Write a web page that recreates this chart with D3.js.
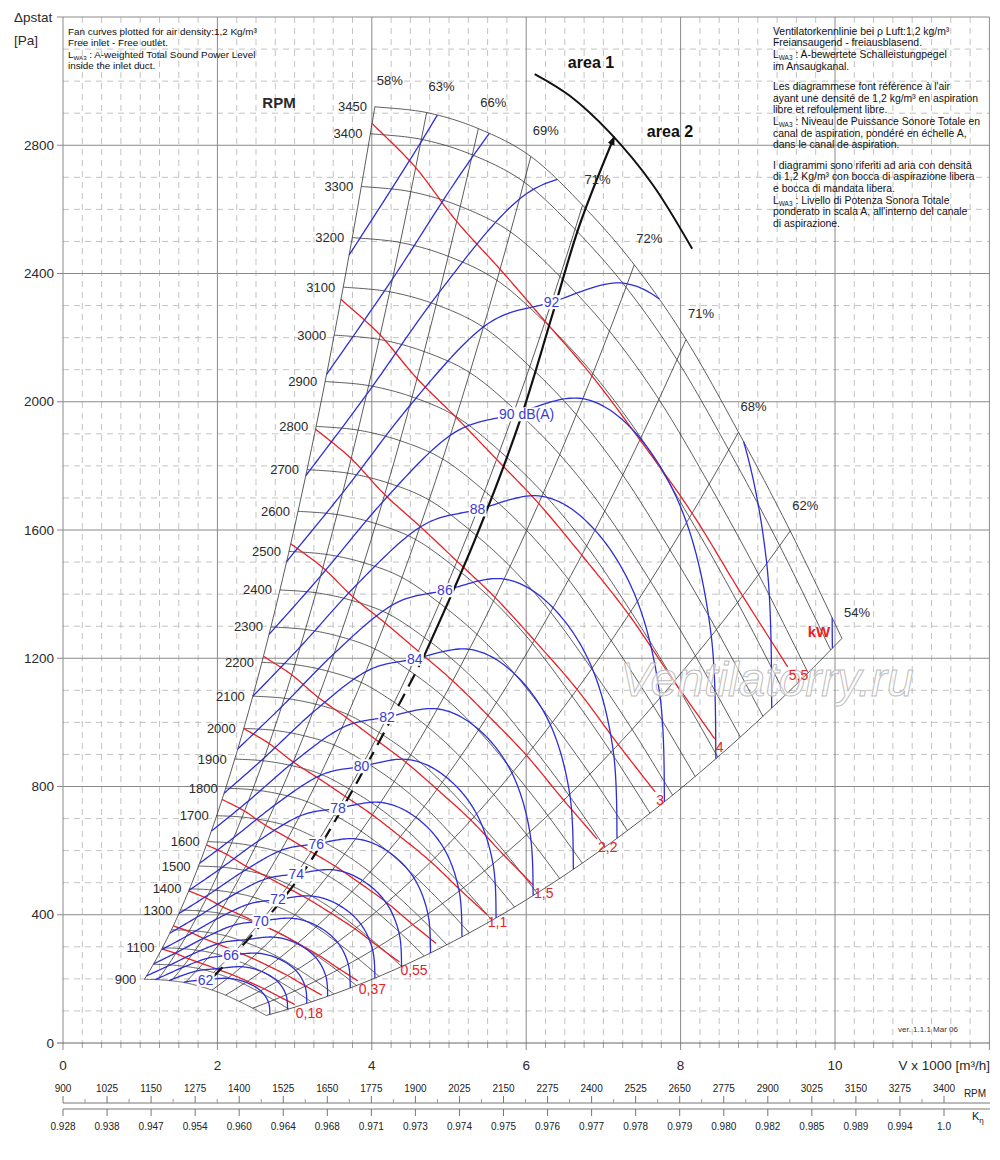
<!DOCTYPE html>
<html>
<head>
<meta charset="utf-8">
<script src="https://cdn.jsdelivr.net/npm/d3@7"></script>
<style>
  body { margin: 0; background: #fff; }
  svg { display: block; font-family: "Liberation Sans", Arial, sans-serif; }
</style>
</head>
<body>
<svg id="chart" width="1000" height="1160"></svg>
<script>
// fan curve at top speed, read at the efficiency lines (flow x1000 m3/h, Pa)
var topRpm = 3450;
var baseFlow     = [4.04, 4.71, 5.38, 6.06, 6.73, 7.40, 8.07, 8.75, 9.42, 10.09];
var basePressure = [2920, 2902, 2852, 2765, 2613, 2427, 2194, 1905, 1597, 1262];
var efficiency   = [58, 63, 66, 69, 71, 72, 71, 68, 62, 54];
var baseSound    = [100.1, 98.4, 96.4, 94.6, 93.5, 92.3, 91.85, 91.95, 92.8, 94.3];
var soundSlope = 56.1;   // dB per decade of speed

var rpmList = [900, 1000, 1100, 1200, 1300, 1400, 1500, 1600, 1700, 1800, 1900, 2000, 2100,
  2200, 2300, 2400, 2500, 2600, 2700, 2800, 2900, 3000, 3100, 3200, 3300, 3400, 3450];
var rpmLabelled = [900, 1100, 1300, 1400, 1500, 1600, 1700, 1800, 1900, 2000, 2100, 2200,
  2300, 2400, 2500, 2600, 2700, 2800, 2900, 3000, 3100, 3200, 3300, 3400, 3450];

var soundLevels = [62, 64, 66, 68, 70, 72, 74, 76, 78, 80, 82, 84, 86, 88, 90, 92, 94, 96, 98];
var soundLabelled = [62, 66, 70, 72, 74, 76, 78, 80, 82, 84, 86, 88, 90, 92];

var powerLevels = [0.18, 0.25, 0.37, 0.55, 0.75, 1.1, 1.5, 2.2, 3, 4, 5.5];
var powerLabels = ["0,18", "", "0,37", "0,55", "", "1,1", "1,5", "2,2", "3", "4", "5,5"];

var areaLine = [[1.94, 205], [3.10, 529], [4.66, 1198], [5.33, 1566], [5.91, 1935],
  [6.34, 2272], [6.69, 2550], [7.14, 2826]];
var areaArc = [[6.11, 3022], [6.56, 2955], [7.08, 2840], [7.63, 2680], [8.15, 2477]];

var flowTicks = [0, 2, 4, 6, 8, 10];
var pressTicks = [0, 400, 800, 1200, 1600, 2000, 2400, 2800];
var rpmScaleTicks = [900, 1025, 1150, 1275, 1400, 1525, 1650, 1775, 1900, 2025, 2150,
  2275, 2400, 2525, 2650, 2775, 2900, 3025, 3150, 3275, 3400];
var kEtaLabels = ["0.928", "0.938", "0.947", "0.954", "0.960", "0.964", "0.968", "0.971",
  "0.973", "0.974", "0.975", "0.976", "0.977", "0.978", "0.979", "0.980", "0.982",
  "0.985", "0.989", "0.994", "1.0"];

var notesLeft = [
  "Fan curves plotted for air density:1,2 Kg/m³",
  "Free inlet - Free outlet.",
  "L{WA3} : A-weighted Total Sound Power Level",
  "inside the inlet duct."
];
var notesRight = [
  "Ventilatorkennlinie bei ρ Luft:1,2 kg/m³",
  "Freiansaugend - freiausblasend.",
  "L{WA3} : A-bewertete Schalleistungpegel",
  "im Ansaugkanal.",
  "",
  "Les diagrammese font référence à l'air",
  "ayant une densité de 1,2 kg/m³ en aspiration",
  "libre et refoulement libre.",
  "L{WA3} : Niveau de Puissance Sonore Totale en",
  "canal de aspiration, pondéré en échelle A,",
  "dans le canal de aspiration.",
  "",
  "I diagrammi sono riferiti ad aria con densità",
  "di 1,2 Kg/m³ con bocca di aspirazione libera",
  "e bocca di mandata libera.",
  "L{WA3} : Livello di Potenza Sonora Totale",
  "ponderato in scala A, all'interno del canale",
  "di aspirazione."
];

// shaft power at top speed, kW
var basePower = baseFlow.map(function(v, i) {
  return v / 3.6 * basePressure[i] / 1000 / (efficiency[i] / 100);
});

var svg = d3.select("#chart");
var x = d3.scaleLinear().domain([0, 12]).range([63, 989.4]);
var y = d3.scaleLinear().domain([0, 3200]).range([1043, 17]);
var line = d3.line().x(function(d) { return x(d[0]); }).y(function(d) { return y(d[1]); });

var BLUE = "#2e2ed6", RED = "#e62228", INK = "#2a2a2a";

// ---- grid
var grid = svg.append("g");
d3.range(1, 48).filter(function(i) { return i % 8; }).forEach(function(i) {
  var xx = x(i * 0.25);
  grid.append("line").attr("x1", xx).attr("x2", xx).attr("y1", y(3200)).attr("y2", y(0))
    .attr("stroke", "#b4b4b4").attr("stroke-width", 0.8).attr("stroke-dasharray", "6,5");
  grid.append("line").attr("x1", xx).attr("x2", xx).attr("y1", y(0)).attr("y2", y(0) + 5)
    .attr("stroke", "#888").attr("stroke-width", 0.8);
});
d3.range(1, 32).filter(function(i) { return i % 4; }).forEach(function(i) {
  grid.append("line").attr("x1", x(0)).attr("x2", x(12)).attr("y1", y(i * 100)).attr("y2", y(i * 100))
    .attr("stroke", "#b4b4b4").attr("stroke-width", 0.8).attr("stroke-dasharray", "6,5");
});
[0, 2, 4, 6, 8, 10, 12].forEach(function(v) {
  grid.append("line").attr("x1", x(v)).attr("x2", x(v)).attr("y1", y(3200)).attr("y2", y(0) + 7)
    .attr("stroke", "#8a8a8a").attr("stroke-width", 1);
});
[0, 400, 800, 1200, 1600, 2000, 2400, 2800, 3200].forEach(function(v) {
  grid.append("line").attr("x1", x(0) - 6).attr("x2", x(12)).attr("y1", y(v)).attr("y2", y(v))
    .attr("stroke", v === 0 ? "#666" : "#8a8a8a").attr("stroke-width", 1);
});

// axis labels
svg.append("g").selectAll("text").data(pressTicks).join("text")
  .attr("x", 54).attr("y", function(d) { return y(d); }).attr("dy", "0.35em")
  .attr("text-anchor", "end").attr("font-size", 13.5).attr("fill", INK).text(function(d) { return d; });
svg.append("g").selectAll("text").data(flowTicks).join("text")
  .attr("x", function(d) { return x(d); }).attr("y", 1065).attr("dy", "0.35em")
  .attr("text-anchor", "middle").attr("font-size", 13.5).attr("fill", INK).text(function(d) { return d; });
svg.append("text").attr("x", 990).attr("y", 1065).attr("dy", "0.35em").attr("text-anchor", "end")
  .attr("font-size", 13.5).attr("fill", INK).text("V x 1000 [m³/h]");
svg.append("text").attr("x", 14).attr("y", 22).attr("font-size", 13.5).attr("fill", INK).text("Δpstat");
svg.append("text").attr("x", 14).attr("y", 45).attr("font-size", 13.5).attr("fill", INK).text("[Pa]");

// ---- fan model helpers
function spline(arr) {
  var n = arr.length;
  return function(t) {
    var i = Math.max(0, Math.min(n - 2, Math.floor(t)));
    var u = t - i;
    var p0 = arr[Math.max(i - 1, 0)], p1 = arr[i], p2 = arr[i + 1], p3 = arr[Math.min(i + 2, n - 1)];
    return 0.5 * (2 * p1 + (-p0 + p2) * u + (2 * p0 - 5 * p1 + 4 * p2 - p3) * u * u +
      (-p0 + 3 * p1 - 3 * p2 + p3) * u * u * u);
  };
}
var Vb = spline(baseFlow), Pb = spline(basePressure), Lb = spline(baseSound), Wb = spline(basePower);
var sMin = rpmList[0] / topRpm;
var nodeCount = baseFlow.length - 1;

function onCurve(t, s) { return [Vb(t) * s, Pb(t) * s * s]; }

function isoCurve(sAt, tMax) {
  var segs = [], cur = null, pt = null, ps = null;
  var n = Math.round(tMax / 0.05);
  for (var k = 0; k <= n; k++) {
    var t = Math.min(k * 0.05, tMax), s = sAt(t);
    var inside = s >= sMin && s <= 1;
    var b, tc;
    if (inside && !cur) {
      cur = [];
      if (pt !== null) {
        b = ps < sMin ? sMin : 1;
        tc = pt + (b - ps) / (s - ps) * (t - pt);
        cur.push(onCurve(tc, b));
      }
    }
    if (inside) cur.push(onCurve(t, s));
    else if (cur) {
      b = s < sMin ? sMin : 1;
      tc = pt + (b - ps) / (s - ps) * (t - pt);
      cur.push(onCurve(tc, b));
      segs.push(cur);
      cur = null;
    }
    pt = t; ps = s;
  }
  if (cur) segs.push(cur);
  return segs;
}

var plot = svg.append("g").attr("fill", "none");

// efficiency lines
baseFlow.forEach(function(v, i) {
  var pts = d3.range(0, 41).map(function(k) {
    var s = sMin + (1 - sMin) * k / 40;
    return [v * s, basePressure[i] * s * s];
  });
  plot.append("path").attr("d", line(pts)).attr("stroke", "#333").attr("stroke-width", 0.8);
});

// speed curves
var tSteps = d3.range(0, nodeCount * 20 + 1).map(function(k) { return k / 20; });
rpmList.forEach(function(n) {
  var s = n / topRpm;
  plot.append("path").attr("d", line(tSteps.map(function(t) { return onCurve(t, s); })))
    .attr("stroke", "#333").attr("stroke-width", 0.8);
});

// power lines
var powerEnd = 8.75;
powerLevels.forEach(function(P) {
  isoCurve(function(t) { return Math.cbrt(P / Wb(t)); }, powerEnd).forEach(function(seg) {
    plot.append("path").attr("d", line(seg)).attr("stroke", RED).attr("stroke-width", 1.3);
  });
});

// sound lines
soundLevels.forEach(function(L) {
  isoCurve(function(t) { return Math.pow(10, (L - Lb(t)) / soundSlope); }, nodeCount).forEach(function(seg) {
    plot.append("path").attr("d", line(seg)).attr("stroke", BLUE).attr("stroke-width", 1.3);
  });
});

// area boundary
var areaSolid = areaLine.filter(function(d) { return d[0] >= 4.66; });
var areaDash = areaLine.filter(function(d) { return d[0] <= 4.66; });
var curved = d3.line().x(function(d) { return x(d[0]); }).y(function(d) { return y(d[1]); })
  .curve(d3.curveCatmullRom);
svg.append("defs").append("marker").attr("id", "arr").attr("viewBox", "0 0 10 10")
  .attr("refX", 9).attr("refY", 5).attr("markerWidth", 9).attr("markerHeight", 9)
  .attr("orient", "auto").attr("markerUnits", "userSpaceOnUse")
  .append("path").attr("d", "M0,1 L10,5 L0,9 Z").attr("fill", "#111");
plot.append("path").attr("d", curved(areaSolid)).attr("stroke", "#111").attr("stroke-width", 2.2)
  .attr("marker-end", "url(#arr)");
plot.append("path").attr("d", curved(areaDash)).attr("stroke", "#111").attr("stroke-width", 2.2)
  .attr("stroke-dasharray", "14,8");
plot.append("path").attr("d", curved(areaArc)).attr("stroke", "#111").attr("stroke-width", 2);

// watermark, under the labels
svg.append("text").attr("x", 767).attr("y", 696).attr("text-anchor", "middle")
  .attr("font-size", 48).attr("font-style", "italic").attr("fill", "#fff").attr("fill-opacity", 0.6)
  .attr("stroke", "#bdbdbd").attr("stroke-width", 1).text("Ventilatorry.ru");

// ---- labels
var labels = svg.append("g");

function boxed(g, txt) {
  var bb = txt.node().getBBox();
  g.insert("rect", "text").attr("x", bb.x - 1).attr("y", bb.y + 1).attr("width", bb.width + 2)
    .attr("height", bb.height - 2).attr("fill", "#fff");
}

soundLabelled.forEach(function(L) {
  var s = Math.pow(10, (L - Lb(4)) / soundSlope);
  var p = onCurve(4, s);
  var g = labels.append("g");
  var wide = L === 90;
  var t = g.append("text").attr("x", x(p[0]) - (wide ? 14 : 0)).attr("y", y(p[1])).attr("dy", "0.35em")
    .attr("text-anchor", wide ? "start" : "middle").attr("font-size", 14).attr("fill", "#3a3ad6")
    .text(wide ? L + " dB(A)" : L);
  boxed(g, t);
});

powerLevels.forEach(function(P, i) {
  if (!powerLabels[i]) return;
  var s = Math.cbrt(P / Wb(powerEnd));
  var p = onCurve(powerEnd, s);
  labels.append("text").attr("x", x(p[0]) + 1).attr("y", y(p[1]) + 13)
    .attr("font-size", 14).attr("fill", RED).text(powerLabels[i]);
});
labels.append("text").attr("x", 819).attr("y", 632).attr("dy", "0.35em").attr("text-anchor", "middle")
  .attr("font-size", 15).attr("font-weight", "bold").attr("fill", RED).text("kW");

efficiency.forEach(function(e, i) {
  labels.append("text").attr("x", x(baseFlow[i]) + 15).attr("y", y(basePressure[i]) - 26)
    .attr("dy", "0.35em").attr("text-anchor", "middle").attr("font-size", 13).attr("fill", INK)
    .text(e + "%");
});

rpmLabelled.forEach(function(n) {
  var s = n / topRpm;
  labels.append("text").attr("x", x(baseFlow[0] * s) - 8).attr("y", y(basePressure[0] * s * s))
    .attr("dy", "0.35em").attr("text-anchor", "end").attr("font-size", 13).attr("fill", INK).text(n);
});
labels.append("text").attr("x", 279).attr("y", 103).attr("dy", "0.35em").attr("text-anchor", "middle")
  .attr("font-size", 15).attr("font-weight", "bold").attr("fill", INK).text("RPM");

labels.append("text").attr("x", 591).attr("y", 62).attr("dy", "0.35em").attr("text-anchor", "middle")
  .attr("font-size", 16).attr("font-weight", "bold").attr("fill", "#111").text("area 1");
labels.append("text").attr("x", 670).attr("y", 131).attr("dy", "0.35em").attr("text-anchor", "middle")
  .attr("font-size", 16).attr("font-weight", "bold").attr("fill", "#111").text("area 2");

// ---- notes
function noteBlock(lines, x0, y0, size, step) {
  var g = svg.append("g").attr("font-size", size).attr("fill", "#111");
  var yy = y0;
  lines.forEach(function(s) {
    if (s === "") { yy += 8.5; return; }
    var t = g.append("text").attr("x", x0).attr("y", yy);
    var parts = s.split("{WA3}");
    if (parts.length > 1) {
      t.append("tspan").text(parts[0]);
      t.append("tspan").attr("font-size", size * 0.62).attr("dy", 2).text("WA3");
      t.append("tspan").attr("dy", -2).text(parts[1]);
    } else t.text(s);
    yy += step;
  });
}
noteBlock(notesLeft, 68, 34.5, 9.9, 11.5);
noteBlock(notesRight, 773, 34.5, 10.4, 11.7);

svg.append("text").attr("x", 958).attr("y", 1032).attr("text-anchor", "end").attr("font-size", 8)
  .attr("fill", "#333").text("ver. 1.1.1 Mar 06");

// ---- speed and efficiency correction scales
var sx = d3.scaleLinear().domain([900, 3400]).range([63, 944]);
var sc = svg.append("g");
sc.append("line").attr("x1", 63).attr("x2", 990).attr("y1", 1103).attr("y2", 1103).attr("stroke", "#777");
sc.append("line").attr("x1", 63).attr("x2", 990).attr("y1", 1109).attr("y2", 1109).attr("stroke", "#777");
rpmScaleTicks.forEach(function(r, i) {
  sc.append("line").attr("x1", sx(r)).attr("x2", sx(r)).attr("y1", 1103).attr("y2", 1096).attr("stroke", "#777");
  if (i < rpmScaleTicks.length - 1) {
    var m = sx(r + 62.5);
    sc.append("line").attr("x1", m).attr("x2", m).attr("y1", 1103).attr("y2", 1099).attr("stroke", "#999");
  }
  sc.append("line").attr("x1", sx(r)).attr("x2", sx(r)).attr("y1", 1109).attr("y2", 1116).attr("stroke", "#777");
  sc.append("text").attr("x", sx(r)).attr("y", 1088).attr("dy", "0.35em").attr("text-anchor", "middle")
    .attr("font-size", 10).attr("fill", "#222").text(r);
  sc.append("text").attr("x", sx(r)).attr("y", 1126).attr("dy", "0.35em").attr("text-anchor", "middle")
    .attr("font-size", 10).attr("fill", "#222").text(kEtaLabels[i]);
});
sc.append("text").attr("x", 975).attr("y", 1093).attr("dy", "0.35em").attr("text-anchor", "middle")
  .attr("font-size", 10).attr("fill", "#222").text("RPM");
var ke = sc.append("text").attr("x", 972).attr("y", 1120).attr("font-size", 11).attr("fill", "#222");
ke.append("tspan").text("K");
ke.append("tspan").attr("font-size", 8).attr("dy", 3).text("η");
</script>
</body>
</html>
